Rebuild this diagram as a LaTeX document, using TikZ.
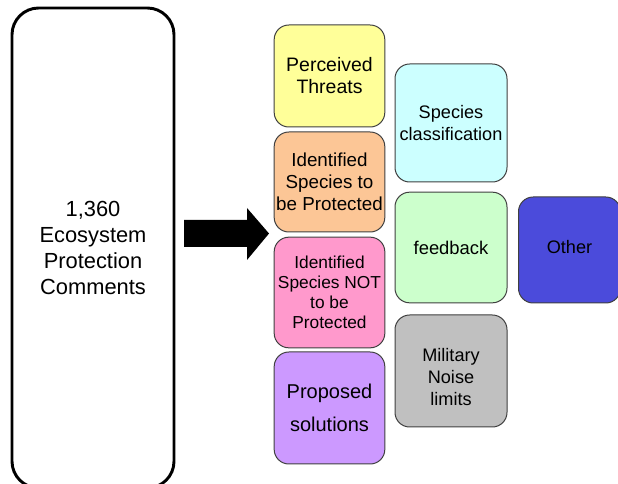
\documentclass[tikz,border=0pt]{standalone}
\usepackage{fontspec}
\setmainfont{Liberation Sans}
\usetikzlibrary{positioning}

\definecolor{threatyellow}{RGB}{255,255,153}
\definecolor{protpeach}{RGB}{252,198,150}
\definecolor{notpink}{RGB}{255,153,204}
\definecolor{solvlilac}{RGB}{204,153,255}
\definecolor{classcyan}{RGB}{204,255,255}
\definecolor{feedgreen}{RGB}{204,255,204}
\definecolor{noisegray}{RGB}{192,192,192}
\definecolor{otherblue}{RGB}{75,75,219}
\definecolor{boxline}{RGB}{64,64,64}

\tikzset{
  topic/.style={draw=boxline, line width=0.75, rounded corners=11pt, align=center,
    minimum width=83pt, inner sep=0pt,
    font=\fontsize{14.6}{16.5}\selectfont},
  bigbox/.style={draw=black, line width=2.2, rounded corners=20pt, align=center,
    minimum width=121.5pt, minimum height=360pt,
    font=\fontsize{16.4}{19.5}\selectfont}
}

\begin{document}
\begin{tikzpicture}[x=0.75pt,y=0.75pt,yscale=-1,xscale=1]
\useasboundingbox (0,0) rectangle (618,484);

% Big box
\node[bigbox] (comments) at (93,248) {1,360\\Ecosystem\\Protection\\Comments};

% Block arrow
\fill[black] (184,220) -- (247,220) -- (247,208) -- (269,233.5) -- (247,260) -- (247,247) -- (184,247) -- cycle;

% First column
\node[topic, fill=threatyellow, minimum height=76.5pt] (threats) at (329.5,76) {Perceived\\Threats};
\node[topic, fill=protpeach, minimum height=75pt, font=\fontsize{14.1}{16.5}\selectfont] (protected) at (329.5,182) {Identified\\Species to\\be Protected};
\node[topic, fill=notpink, minimum height=83pt, font=\fontsize{13}{15}\selectfont] (notprotected) at (329.5,292.5) {Identified\\Species NOT\\to be\\Protected};
\node[topic, fill=solvlilac, minimum height=84pt, font=\fontsize{15}{25}\selectfont] (solutions) at (329.5,408) {Proposed\\solutions};

% Second column
\node[topic, fill=classcyan, minimum height=88.5pt, minimum width=84pt, font=\fontsize{13.6}{16.5}\selectfont] (classif) at (451,123) {Species\\classification};
\node[topic, fill=feedgreen, minimum height=83pt, minimum width=84pt, font=\fontsize{13.8}{16.5}\selectfont] (feedback) at (451,247.5) {feedback};
\node[topic, fill=noisegray, minimum height=84pt, minimum width=84pt, font=\fontsize{13.6}{16.5}\selectfont] (noise) at (451,371) {\\[3pt]Military\\Noise\\limits};

% Third column
\node[topic, fill=otherblue, minimum height=79.5pt, minimum width=76.5pt, font=\fontsize{13.6}{16.5}\selectfont, anchor=west] (other) at (518,250) {\raisebox{5pt}{Other}};

\end{tikzpicture}
\end{document}
